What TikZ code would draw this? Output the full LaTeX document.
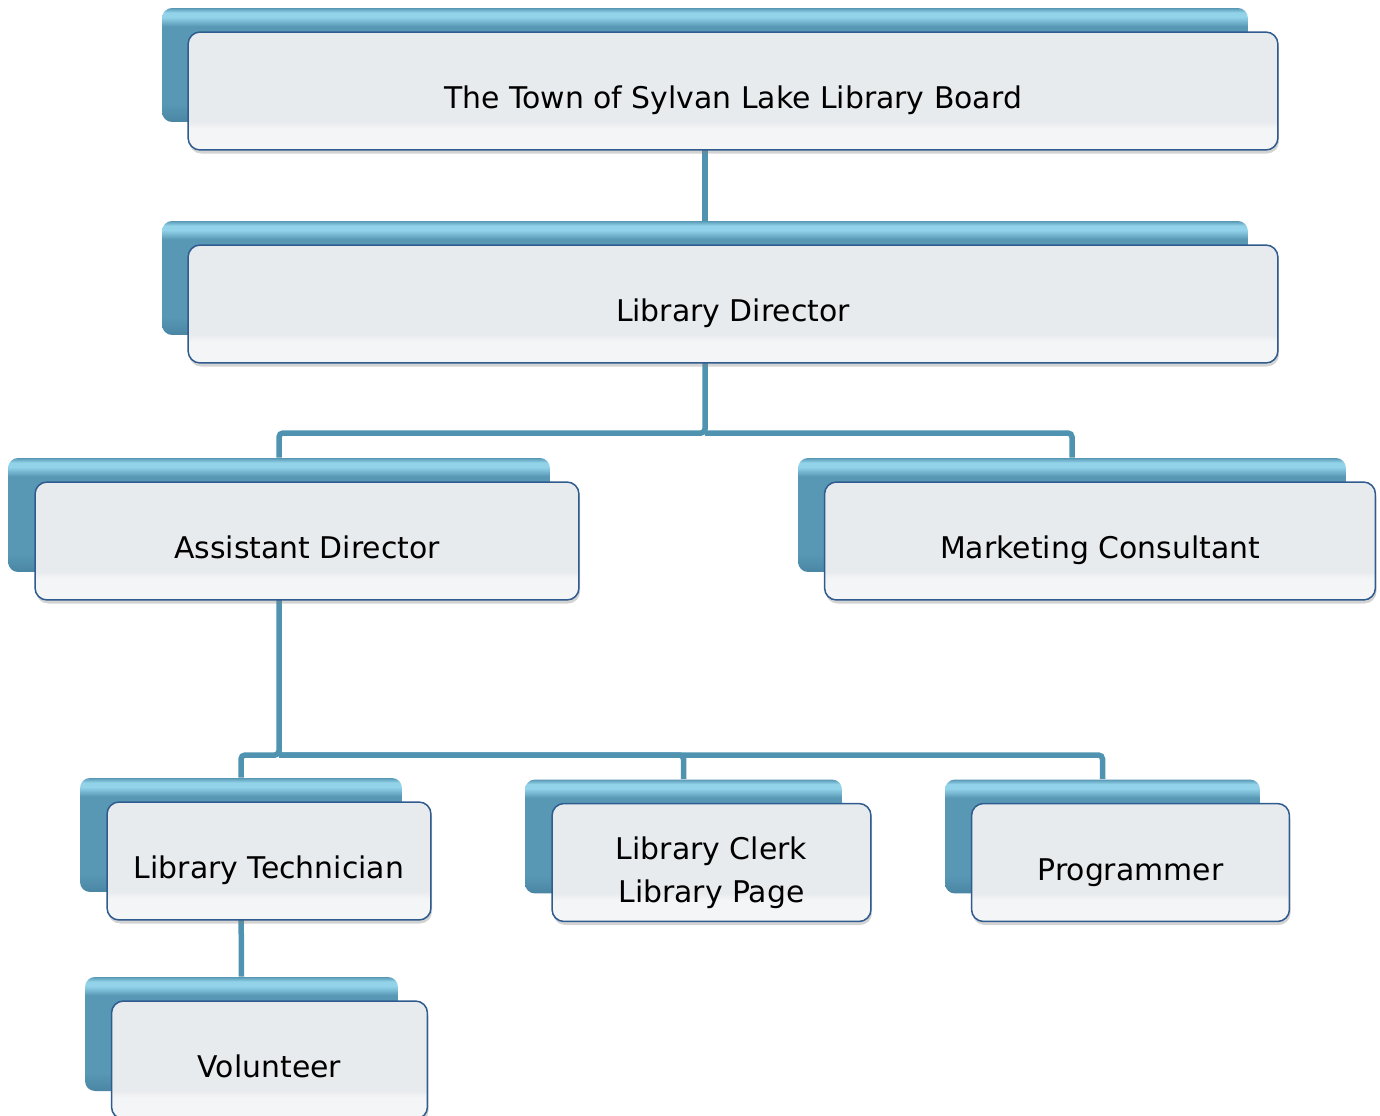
\documentclass[tikz,border=0pt]{standalone}
\usepackage{fontspec}
\setmainfont{DejaVu Sans}
\usetikzlibrary{shadows,backgrounds}
\definecolor{linkblue}{HTML}{4F93B0}
\definecolor{backlo}{HTML}{4A86A4}
\definecolor{backmid}{HTML}{5898B5}
\definecolor{backhi}{HTML}{92D3EA}
\definecolor{edge}{HTML}{2F5B8E}
\definecolor{frontlo}{HTML}{F4F5F6}
\definecolor{frontmid}{HTML}{E8EBEE}
\pgfdeclareverticalshading{backshade}{100bp}{color(0bp)=(backlo); color(25bp)=(backlo); color(33bp)=(backmid); color(67bp)=(backmid); color(71bp)=(backhi); color(73bp)=(backhi); color(75bp)=(backmid); color(100bp)=(backmid)}
\pgfdeclareverticalshading{frontshade}{100bp}{color(0bp)=(frontlo); color(25bp)=(frontlo); color(34bp)=(frontlo); color(37bp)=(frontmid); color(100bp)=(frontmid)}
\tikzset{
  backbox/.style={shade, shading=backshade, rounded corners=0.2cm, minimum height=2.28cm, inner sep=0pt},
  frontbox/.style={shade, shading=frontshade, draw=edge, line width=0.03cm, rounded corners=0.24cm,
    minimum height=2.36cm, inner sep=0pt, align=center, text height=25.4pt, text depth=5pt,
    font=\fontsize{17}{24.5}\selectfont,
    drop shadow={opacity=0.35, shadow xshift=0.6pt, shadow yshift=-2pt}},
  link/.style={draw=linkblue, line width=0.11cm, rounded corners=0.08cm},
}

\begin{document}
\begin{tikzpicture}[x=0.02cm, y=-0.02cm]
    \useasboundingbox (0,0) rectangle (1380,1116);
    % board and director
    \node[backbox, minimum width=21.72cm] (boardback) at (705,65) {};
    \node[frontbox, minimum width=21.8cm] (board) at ([shift={(28,26)}]boardback.center)
      {The Town of Sylvan Lake Library Board};
    \node[backbox, minimum width=21.72cm] (directorback) at (705,278) {};
    \node[frontbox, minimum width=21.8cm] (director) at ([shift={(28,26)}]directorback.center)
      {Library Director};
    % second row
    \node[backbox, minimum width=10.84cm] (assistantback) at (279,515) {};
    \node[frontbox, minimum width=10.88cm] (assistant) at ([shift={(28,26)}]assistantback.center)
      {Assistant Director};
    \node[backbox, minimum width=10.96cm] (marketingback) at (1072,515) {};
    \node[frontbox, minimum width=11.02cm] (marketing) at ([shift={(28,26)}]marketingback.center)
      {Marketing Consultant};
    % third row
    \node[backbox, minimum width=6.44cm] (technicianback) at (241,835) {};
    \node[frontbox, minimum width=6.48cm] (technician) at ([shift={(28,26)}]technicianback.center)
      {Library Technician};
    \node[backbox, minimum width=6.34cm] (clerkback) at (683.5,836.5) {};
    \node[frontbox, minimum width=6.38cm, text height=48.6pt, text depth=] (clerk) at ([shift={(28,26)}]clerkback.center)
      {Library Clerk\\Library Page};
    \node[backbox, minimum width=6.3cm] (programmerback) at (1102.5,836.5) {};
    \node[frontbox, minimum width=6.36cm] (programmer) at ([shift={(28,26)}]programmerback.center)
      {Programmer};
    \node[backbox, minimum width=6.26cm] (volunteerback) at (241.5,1034) {};
    \node[frontbox, minimum width=6.32cm] (volunteer) at ([shift={(28,26)}]volunteerback.center)
      {Volunteer};
    % connectors
    \begin{scope}[on background layer]
      \coordinate (bar1) at (705,433);
      \coordinate (bar2) at (279,755);
      \draw[link] (boardback.south) -- (directorback.north);
      \draw[link] (directorback.south) -- (bar1) -| (assistantback.north);
      \draw[link] (bar1) -| (marketingback.north);
      \draw[link] (assistantback.south) -- (bar2) -| (technicianback.north);
      \draw[link] (bar2) -| (clerkback.north);
      \draw[link] (bar2) -| (programmerback.north);
      \draw[link] (technicianback.south) -- (volunteerback.north);
    \end{scope}
  \end{tikzpicture}
\end{document}
